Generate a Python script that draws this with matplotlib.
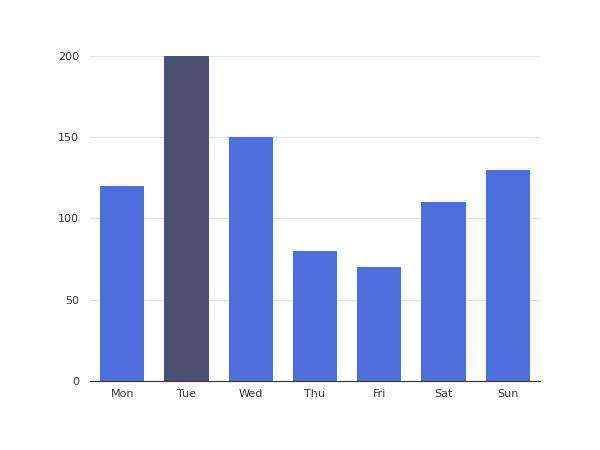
import matplotlib
matplotlib.use("Agg")
import matplotlib.pyplot as plt

days = ["Mon", "Tue", "Wed", "Thu", "Fri", "Sat", "Sun"]
values = [120, 200, 150, 80, 70, 110, 130]
colors = ["#4c6fdd", "#4b4f70", "#4c6fdd", "#4c6fdd", "#4c6fdd", "#4c6fdd", "#4c6fdd"]

fig = plt.figure(figsize=(6, 4.5), dpi=100)
ax = fig.add_axes([0.15, 0.1533, 0.75, 0.7223])
ax.bar(range(len(days)), values, width=0.69, color=colors, zorder=3)
ax.set_xlim(-0.5, len(days) - 0.5)
ax.set_ylim(0, 200)
ax.set_yticks([0, 50, 100, 150, 200])
ax.set_xticks(range(len(days)))
ax.set_xticklabels(days)
ax.yaxis.grid(True, color="#e0e6f1", linewidth=1, zorder=0)
for s in ["top", "right", "left"]:
    ax.spines[s].set_visible(False)
ax.spines["bottom"].set_color("#333333")
ax.tick_params(axis="y", length=0, pad=8, labelsize=8, labelcolor="#333333")
ax.tick_params(axis="x", length=0, pad=6, labelsize=8, labelcolor="#333333")
fig.savefig("out.png")
